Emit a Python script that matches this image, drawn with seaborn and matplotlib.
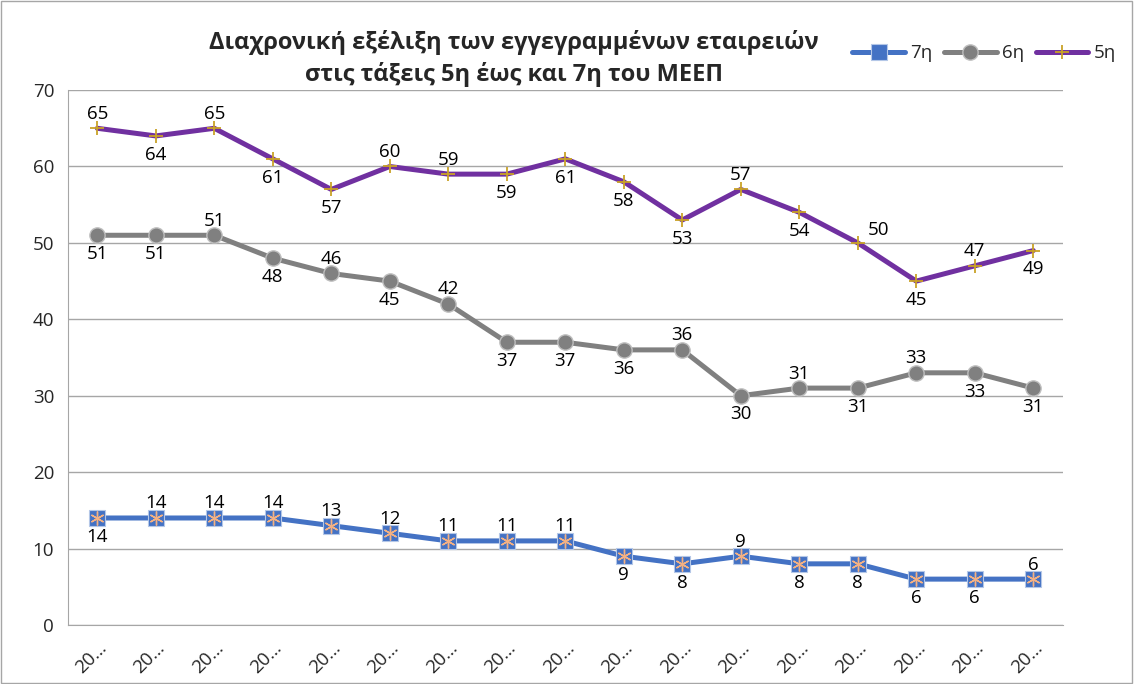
import matplotlib
matplotlib.use("Agg")
import matplotlib.pyplot as plt
import numpy as np
import pandas as pd
import seaborn as sns
from matplotlib.patches import Rectangle

# chart data
years = ["20…"] * 17
grade7 = [14, 14, 14, 14, 13, 12, 11, 11, 11, 9, 8, 9, 8, 8, 6, 6, 6]
grade6 = [51, 51, 51, 48, 46, 45, 42, 37, 37, 36, 36, 30, 31, 31, 33, 33, 31]
grade5 = [65, 64, 65, 61, 57, 60, 59, 59, 61, 58, 53, 57, 54, 50, 45, 47, 49]

# where each data label sits: a = above, b = below, r = right
pos7 = list("baaaaaaaabbabbbba")
pos6 = list("bbabababbbabababb")
pos5 = list("ababbaabbbbabrbab")

title = "Διαχρονική εξέλιξη των εγγεγραμμένων εταιρειών\nστις τάξεις 5η έως και 7η του ΜΕΕΠ"

sns.set_style("white")
plt.rcParams["font.family"] = ["Open Sans", "DejaVu Sans"]

fig = plt.figure(figsize=(11.34, 6.84), dpi=100)
ax = fig.add_axes([0.060, 0.0863, 0.877, 0.782])

x = np.arange(len(years))
blue, gray, purple = "#4472C4", "#808080", "#7030A0"
fs = 13.5

# 7η: blue squares with a salmon asterisk on top
sns.lineplot(x=x, y=grade7, ax=ax, color=blue, lw=3.6, marker="s", markersize=11.5,
             markeredgecolor="#B4C7E7", markeredgewidth=0.8, label="7η", zorder=3)
ax.plot(x, grade7, ls="none", marker=(6, 2, 0), markersize=10, color="#F4B183",
        markeredgewidth=1.0, zorder=4)
# 6η: gray circles
sns.lineplot(x=x, y=grade6, ax=ax, color=gray, lw=3.6, marker="o", markersize=11,
             markeredgecolor="#BFBFBF", markeredgewidth=1.0, label="6η", zorder=3)
# 5η: purple line with gold plus
sns.lineplot(x=x, y=grade5, ax=ax, color=purple, lw=3.6, marker="+", markersize=10,
             markeredgecolor="#C9A227", markeredgewidth=1.3, label="5η", zorder=3)

def put_labels(vals, where):
    for i, (v, p) in enumerate(zip(vals, where)):
        if p == "a":
            off, ha, va = (0, 4), "center", "bottom"
        elif p == "b":
            off, ha, va = (0, -7), "center", "top"
        else:
            off, ha, va = (7, 3), "left", "bottom"
        ax.annotate(str(v), (i, v), xytext=off, textcoords="offset points",
                    ha=ha, va=va, fontsize=fs, color="#000000", zorder=5)

put_labels(grade7, pos7)
put_labels(grade6, pos6)
put_labels(grade5, pos5)

ax.set_xlim(-0.5, len(years) - 0.5)
ax.set_ylim(0, 70)
ax.set_yticks(range(0, 71, 10))
ax.set_xticks(x)
ax.set_xticklabels(years, rotation=45, ha="right", rotation_mode="anchor", fontsize=fs)
ax.set_xticks(np.arange(-0.5, len(years), 1), minor=True)
ax.tick_params(axis="x", which="major", length=0, pad=10)
ax.tick_params(axis="x", which="minor", length=6, color="#A6A6A6", width=1)
ax.tick_params(axis="y", length=6, color="#A6A6A6", labelsize=fs, pad=4)
ax.yaxis.grid(True, color="#A6A6A6", lw=1)
ax.set_axisbelow(True)
for s in ["top", "right"]:
    ax.spines[s].set_visible(False)
for s in ["left", "bottom"]:
    ax.spines[s].set_color("#A6A6A6")
ax.set_xlabel("")
ax.set_ylabel("")

ax.get_legend().remove()
h, l = ax.get_legend_handles_labels()
fig.legend(h, l, loc="center right", bbox_to_anchor=(0.999, 0.922), ncol=3,
           frameon=False, fontsize=fs, handlelength=2.8, columnspacing=0.6,
           handletextpad=0.3)

fig.text(0.453, 0.914, title, ha="center", va="center", fontsize=17,
         fontweight="bold", linespacing=1.35)

fig.patches.append(Rectangle((0.001, 0.001), 0.997, 0.997, transform=fig.transFigure,
                             fill=False, edgecolor="#A6A6A6", lw=1))

fig.savefig("out.png", dpi=100)
